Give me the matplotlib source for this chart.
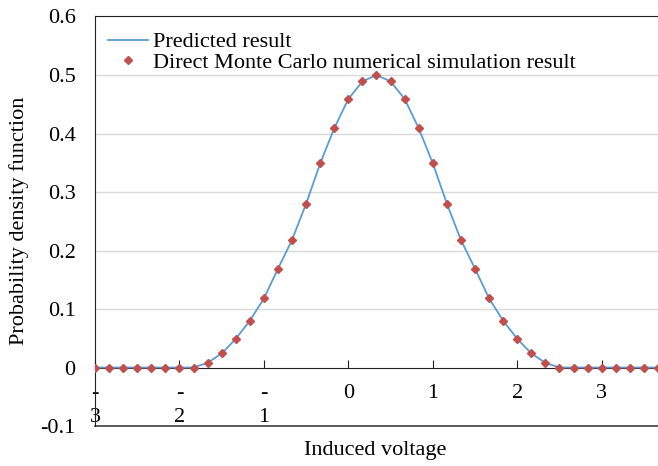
import matplotlib
matplotlib.use("Agg")
import matplotlib.pyplot as plt

plt.rcParams['font.family'] = ['Liberation Serif', 'DejaVu Serif']

# sample points (step of 1/6 V)
volt = [-3.0, -2.833, -2.667, -2.5, -2.333, -2.167, -2.0, -1.833,
        -1.667, -1.5, -1.333, -1.167, -1.0, -0.833, -0.667, -0.5,
        -0.333, -0.167, 0.0, 0.167, 0.333, 0.5, 0.667, 0.833,
        1.0, 1.167, 1.333, 1.5, 1.667, 1.833, 2.0, 2.167,
        2.333, 2.5, 2.667, 2.833, 3.0, 3.167, 3.333, 3.5, 3.667]
pdf_pred = [0, 0, 0, 0, 0, 0, 0, 0,
            0.008, 0.024, 0.049, 0.080, 0.118, 0.169, 0.218, 0.280,
            0.349, 0.409, 0.459, 0.489, 0.500, 0.489, 0.459, 0.409,
            0.349, 0.280, 0.218, 0.169, 0.118, 0.080, 0.049, 0.024,
            0.008, 0, 0, 0, 0, 0, 0, 0, 0]
pdf_mc = list(pdf_pred)

xticks = [-3, -2, -1, 0, 1, 2, 3]
xticklabels = ['-\n3', '-\n2', '-\n1', '0', '1', '2', '3']
yticks = [-0.1, 0, 0.1, 0.2, 0.3, 0.4, 0.5, 0.6]
yticklabels = ['-0.1', '0', '0.1', '0.2', '0.3', '0.4', '0.5', '0.6']

fig = plt.figure(figsize=(6.58, 4.66), dpi=100)
ax = fig.add_axes([0.1444, 0.0858, 0.8556, 0.8788])

ax.plot(volt, pdf_pred, color='#5B9BD5', lw=1.3, label='Predicted result', zorder=3)
ax.plot(volt, pdf_mc, ls='none', marker='D', ms=4.5, color='#C0504D',
        label='Direct Monte Carlo numerical simulation result', zorder=4)

ax.set_xlim(-3, 3.667)
ax.set_ylim(-0.1, 0.6)

for y in [0.1, 0.2, 0.3, 0.4, 0.5]:
    ax.axhline(y, color='#D9D9D9', lw=1, zorder=1)
ax.axhline(-0.1, color='#404040', lw=1.2, zorder=2, clip_on=False)

ax.spines['right'].set_visible(False)
ax.spines['top'].set_color('#202020')
ax.spines['left'].set_color('#202020')
ax.spines['bottom'].set_position(('data', 0))
ax.spines['bottom'].set_color('#202020')

ax.set_xticks(xticks)
ax.set_xticklabels(xticklabels, fontsize=16, linespacing=1.35)
ax.tick_params(axis='x', direction='in', length=6, pad=12, color='#202020')
ax.set_yticks(yticks)
ax.set_yticklabels(yticklabels, fontsize=16)
ax.tick_params(axis='y', length=0, pad=14)

ax.set_ylabel('Probability density function', fontsize=16, labelpad=8)
fig.text(0.5708, 1 - 450 / 466, 'Induced voltage', fontsize=16,
         ha='center', va='center')

ax.legend(loc='upper left', frameon=False, fontsize=16, handlelength=1.8,
          handletextpad=0.2, borderaxespad=0.2, labelspacing=0.0,
          bbox_to_anchor=(0.0, 0.995))

fig.savefig('out.png', dpi=100)
